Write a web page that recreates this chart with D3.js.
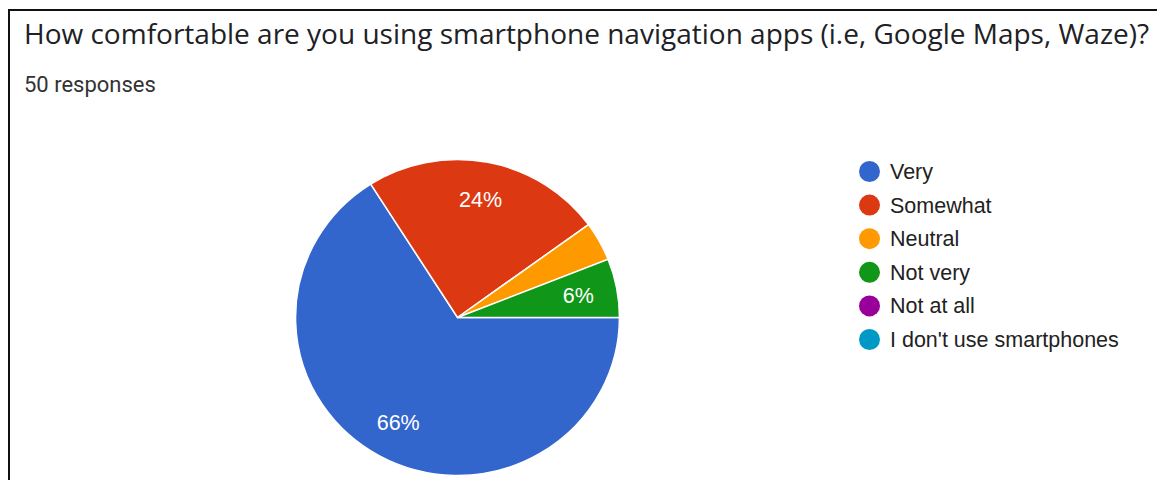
<!DOCTYPE html>
<html>
<head>
<meta charset="utf-8">
<script src="https://cdn.jsdelivr.net/npm/d3@7"></script>
<style>
  html, body { margin: 0; padding: 0; background: #fff; }
  svg { display: block; }
</style>
</head>
<body>
<svg id="chart" width="1157" height="480"></svg>
<script>
// Survey question and answer tallies
const title = "How comfortable are you using smartphone navigation apps (i.e, Google Maps, Waze)?";
const subtitle = "50 responses";
const categories = ["Very", "Somewhat", "Neutral", "Not very", "Not at all", "I don't use smartphones"];
const counts = [33, 12, 2, 3, 0, 0];
const colors = ["#3366cc", "#dc3912", "#ff9900", "#109618", "#990099", "#0099c6"];

const svg = d3.select("#chart");
const total = d3.sum(counts);

// Card frame
svg.append("path")
  .attr("d", "M9,482 V10 H1160")
  .attr("fill", "none")
  .attr("stroke", "#111")
  .attr("stroke-width", 2);

svg.append("text")
  .attr("x", 24).attr("y", 44)
  .attr("font-family", "'Open Sans', sans-serif")
  .attr("font-size", 28)
  .attr("fill", "#202124")
  .text(title);

svg.append("text")
  .attr("x", 24).attr("y", 92)
  .attr("font-family", "Roboto, sans-serif")
  .attr("font-size", 22)
  .attr("fill", "#333")
  .text(subtitle);

// Pie, starting at 3 o'clock and running clockwise
const cx = 457.5, cy = 317.5, r = 158, sx = 1.025;
const data = categories.map((c, i) => ({ name: c, value: counts[i], color: colors[i] }));

const pie = d3.pie()
  .value(d => d.value)
  .sort(null)
  .startAngle(Math.PI / 2)
  .endAngle(Math.PI / 2 + 2 * Math.PI);

const arcs = pie(data).filter(d => d.data.value > 0);
const arc = d3.arc().innerRadius(0).outerRadius(r);
const labelArc = d3.arc().innerRadius(r * 0.76).outerRadius(r * 0.76);

const g = svg.append("g")
  .attr("transform", `translate(${cx},${cy}) scale(${sx},1)`);

g.selectAll("path.slice")
  .data(arcs)
  .join("path")
  .attr("class", "slice")
  .attr("d", arc)
  .attr("fill", d => d.data.color)
  .attr("stroke", "#fff")
  .attr("stroke-width", 1.5);

// Percentage labels on slices large enough to hold them
svg.append("g")
  .attr("transform", `translate(${cx},${cy})`)
  .selectAll("text")
  .data(arcs.filter(d => d.data.value / total >= 0.05))
  .join("text")
  .attr("x", d => labelArc.centroid(d)[0] * sx)
  .attr("y", d => labelArc.centroid(d)[1])
  .attr("dy", "0.35em")
  .attr("text-anchor", "middle")
  .attr("font-family", "Arial, 'Liberation Sans', sans-serif")
  .attr("font-size", 21.5)
  .attr("fill", "#fff")
  .text(d => Math.round(d.data.value / total * 100) + "%");

// Legend
const legend = svg.append("g").attr("transform", "translate(869.5,171.5)");
const rows = legend.selectAll("g")
  .data(data)
  .join("g")
  .attr("transform", (d, i) => `translate(0,${i * 33.6})`);

rows.append("circle")
  .attr("r", 10.5)
  .attr("fill", d => d.color);

rows.append("text")
  .attr("x", 20.5)
  .attr("dy", "0.35em")
  .attr("font-family", "Arial, 'Liberation Sans', sans-serif")
  .attr("font-size", 21.5)
  .attr("fill", "#222")
  .text(d => d.name);
</script>
</body>
</html>
